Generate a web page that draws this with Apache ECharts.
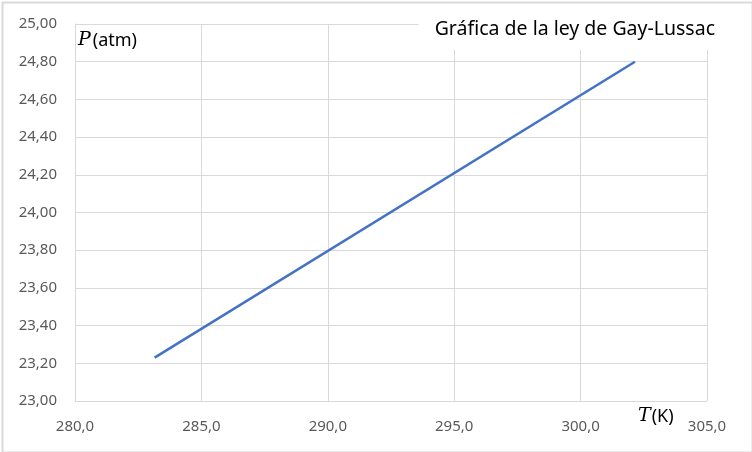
<!DOCTYPE html>
<html>
<head>
<meta charset="utf-8">
<script src="https://cdn.jsdelivr.net/npm/echarts@6/dist/echarts.min.js"></script>
<style>
html,body{margin:0;padding:0;background:#fff;}
#c{width:752px;height:452px;}
</style>
</head>
<body>
<div id="c"></div>
<script>
const temperaturesK = [283.15, 302.15];
const pressuresAtm = [23.23, 24.80];
const xTicks = {min: 280, max: 305, interval: 5};
const yTicks = {min: 23, max: 25, interval: 0.2};
const titleText = 'Gráfica de la ley de Gay-Lussac';

const chart = echarts.init(document.getElementById('c'), null, {renderer: 'canvas'});
const labelFont = 'Noto Sans';
chart.setOption({
  animation: false,
  backgroundColor: '#fff',
  grid: {left: 75, top: 24, right: 45, bottom: 51},
  title: {
    text: titleText,
    right: 30, top: 10,
    padding: [9, 7, 11, 16],
    backgroundColor: '#fff',
    textStyle: {fontFamily: labelFont, fontSize: 19.5, fontWeight: 'normal', color: '#000'}
  },
  xAxis: {
    type: 'value', min: xTicks.min, max: xTicks.max, interval: xTicks.interval,
    axisLine: {show: true, lineStyle: {color: '#d9d9d9', width: 1}},
    axisTick: {show: false},
    splitLine: {show: true, lineStyle: {color: '#d9d9d9', width: 1}},
    axisLabel: {color: '#595959', fontFamily: labelFont, fontSize: 15, margin: 18,
      formatter: v => v.toFixed(1).replace('.', ',')}
  },
  yAxis: {
    type: 'value', min: yTicks.min, max: yTicks.max, interval: yTicks.interval,
    axisLine: {show: true, lineStyle: {color: '#d9d9d9', width: 1}},
    axisTick: {show: false},
    splitLine: {show: true, lineStyle: {color: '#d9d9d9', width: 1}},
    axisLabel: {color: '#595959', fontFamily: labelFont, fontSize: 15, margin: 18,
      formatter: v => v.toFixed(2).replace('.', ',')}
  },
  series: [{
    type: 'line',
    data: temperaturesK.map((t, i) => [t, pressuresAtm[i]]),
    showSymbol: false,
    lineStyle: {color: '#4472c4', width: 2.5},
    z: 3
  }],
  graphic: [
    {type: 'rect', left: 0, top: 0, shape: {x: 1, y: 1, width: 750, height: 450},
     style: {fill: 'none', stroke: '#d9d9d9', lineWidth: 2}, silent: true, z: 100},
    {type: 'text', left: 78, top: 31, z: 100,
     style: {rich: {
       i: {fontFamily: 'DejaVu Serif', fontStyle: 'italic', fontSize: 19, fill: '#000', padding: [0, 2, 0, 0]},
       n: {fontFamily: labelFont, fontSize: 18, fill: '#000'}
     }, text: '{i|P}{n|(atm)}'}},
    {type: 'text', left: 638, top: 407, z: 100,
     style: {rich: {
       i: {fontFamily: 'DejaVu Serif', fontStyle: 'italic', fontSize: 19, fill: '#000', padding: [0, 1, 0, 0]},
       n: {fontFamily: labelFont, fontSize: 18, fill: '#000'}
     }, text: '{i|T}{n|(K)}'}}
  ]
});
</script>
</body>
</html>
